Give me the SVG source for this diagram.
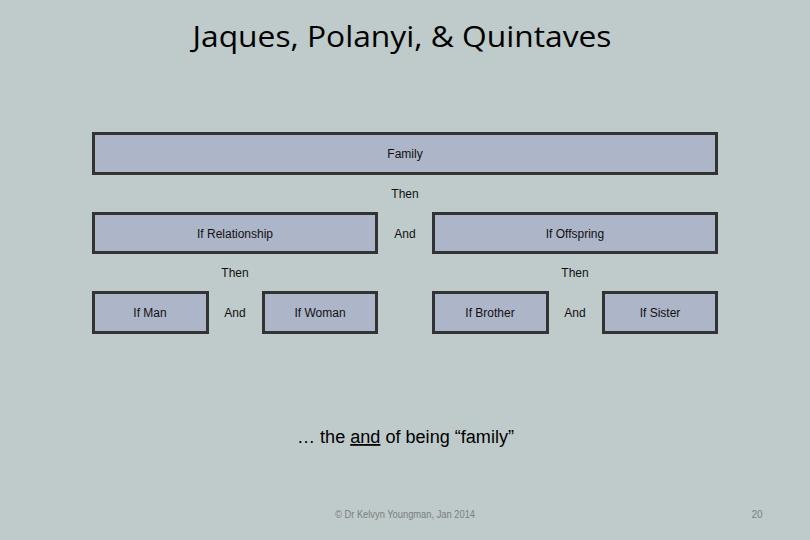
<svg xmlns="http://www.w3.org/2000/svg" width="810" height="540" viewBox="0 0 810 540">
<style>
.box{fill:#adb5c8;stroke:#333333;stroke-width:3}
.lbl{font-family:"Liberation Sans",Arial,sans-serif;font-size:12px;fill:#111;text-anchor:middle}
</style>
<rect x="0" y="0" width="810" height="540" fill="#bfcaca"/>
<text x="402" y="47" font-family="'Open Sans',sans-serif" font-size="30" fill="#000" text-anchor="middle" textLength="419" lengthAdjust="spacingAndGlyphs">Jaques, Polanyi, &amp; Quintaves</text>
<g id="family"><rect class="box" x="93.5" y="133.5" width="623" height="40"/><text class="lbl" x="405" y="158">Family</text></g>
<g id="relationship"><rect class="box" x="93.5" y="213.5" width="283" height="39"/><text class="lbl" x="235" y="238">If Relationship</text></g>
<g id="offspring"><rect class="box" x="433.5" y="213.5" width="283" height="39"/><text class="lbl" x="575" y="238">If Offspring</text></g>
<g id="man"><rect class="box" x="93.5" y="292.5" width="114" height="40"/><text class="lbl" x="150" y="317">If Man</text></g>
<g id="woman"><rect class="box" x="263.5" y="292.5" width="113" height="40"/><text class="lbl" x="320" y="317">If Woman</text></g>
<g id="brother"><rect class="box" x="433.5" y="292.5" width="114" height="40"/><text class="lbl" x="490" y="317">If Brother</text></g>
<g id="sister"><rect class="box" x="603.5" y="292.5" width="113" height="40"/><text class="lbl" x="660" y="317">If Sister</text></g>
<g id="connectors">
<text class="lbl" x="405" y="198">Then</text>
<text class="lbl" x="405" y="238">And</text>
<text class="lbl" x="235" y="277">Then</text>
<text class="lbl" x="575" y="277">Then</text>
<text class="lbl" x="235" y="317">And</text>
<text class="lbl" x="575" y="317">And</text>
</g>
<text x="297" y="443" font-family="'Liberation Sans',Arial,sans-serif" font-size="18" fill="#000" textLength="217" lengthAdjust="spacingAndGlyphs">… the <tspan text-decoration="underline">and</tspan> of being “family”</text>
<text x="405" y="518" font-family="'Liberation Sans',Arial,sans-serif" font-size="10" fill="#7a8080" text-anchor="middle" textLength="140" lengthAdjust="spacingAndGlyphs">© Dr Kelvyn Youngman, Jan 2014</text>
<text x="757" y="518" font-family="'Liberation Sans',Arial,sans-serif" font-size="10" fill="#7a8080" text-anchor="middle">20</text>
</svg>
